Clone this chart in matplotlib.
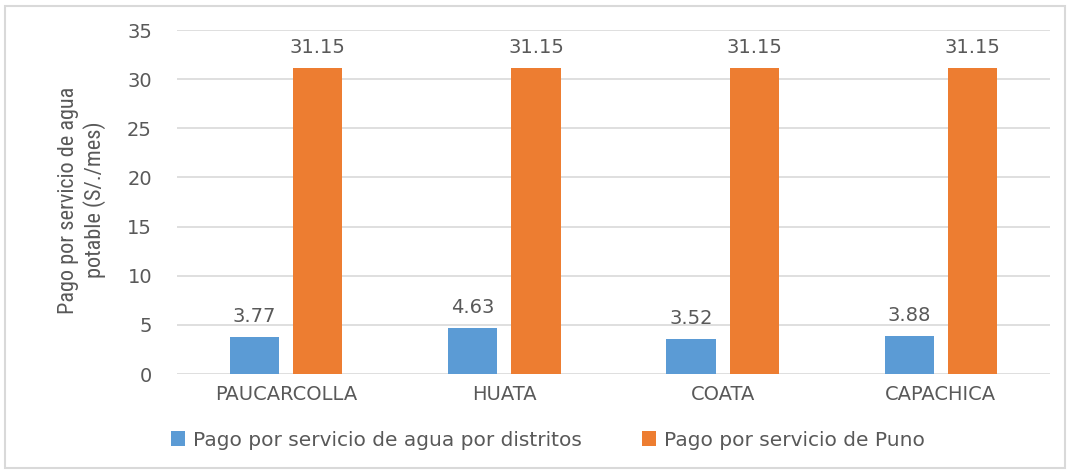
import matplotlib
matplotlib.use("Agg")
import matplotlib.pyplot as plt
from matplotlib.patches import Rectangle
import numpy as np

categories = ["PAUCARCOLLA", "HUATA", "COATA", "CAPACHICA"]
distritos = [3.77, 4.63, 3.52, 3.88]
puno = [31.15, 31.15, 31.15, 31.15]
series_names = ["Pago por servicio de agua por distritos", "Pago por servicio de Puno"]
yticks = [0, 5, 10, 15, 20, 25, 30, 35]

plt.rcParams["font.family"] = ["DejaVu Sans"]

BLUE = "#5B9BD5"
ORANGE = "#ED7D31"
TXT = "#595959"
GRID = "#D9D9D9"
FS = 14

fig = plt.figure(figsize=(10.7, 4.7), dpi=100)
ax = fig.add_axes([177/1070, 1-374/470, (1050-177)/1070, (374-30)/470])

x = np.arange(len(categories))
w = 0.225
off = 0.145
b1 = ax.bar(x - off, distritos, w, color=BLUE, label=series_names[0], zorder=3)
b2 = ax.bar(x + off, puno, w, color=ORANGE, label=series_names[1], zorder=3)

for bars, vals in ((b1, distritos), (b2, puno)):
    for r, v in zip(bars, vals):
        ax.annotate(f"{v:.2f}", (r.get_x() + r.get_width()/2, v), xytext=(0, 8),
                    textcoords="offset points", ha="center", va="bottom",
                    fontsize=FS, color=TXT)

ax.set_xlim(-0.5, 3.5)
ax.set_ylim(0, 35)
ax.set_yticks(yticks)
ax.set_xticks(x)
ax.set_xticklabels(categories)
ax.tick_params(axis="both", length=0, colors=TXT, labelsize=FS)
ax.tick_params(axis="y", pad=18)
ax.tick_params(axis="x", pad=8)
ax.yaxis.grid(True, color=GRID, linewidth=1.2, zorder=0)
for s in ax.spines.values():
    s.set_visible(False)

fig.text(82/1070, 1-200/470, "Pago por servicio de agua\npotable (S/./mes)",
         rotation=90, ha="center", va="center", fontsize=16, color=TXT,
         family=["Roboto Condensed", "Liberation Sans Narrow", "Roboto"],
         linespacing=1.25)

leg = fig.legend(handles=[b1, b2], labels=series_names, loc="center",
                 bbox_to_anchor=(548/1070, 1-440/470), ncol=2, frameon=False,
                 fontsize=14.5, handlelength=0.7, handleheight=0.7,
                 handletextpad=0.4, columnspacing=3.0)
for t in leg.get_texts():
    t.set_color(TXT)

fig.patches.append(Rectangle((5/1070, 2/470), 1060/1070, 462/470,
                             transform=fig.transFigure, fill=False,
                             edgecolor="#D9D9D9", linewidth=1.5))

fig.savefig("out.png", dpi=100, facecolor="white")
